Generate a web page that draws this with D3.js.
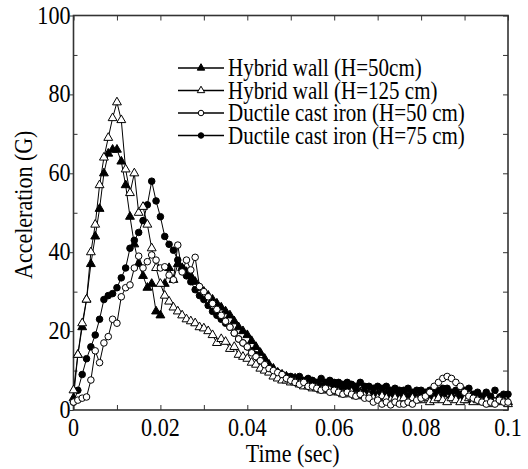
<!DOCTYPE html>
<html><head><meta charset="utf-8"><script src="https://cdn.jsdelivr.net/npm/d3@7"></script></head>
<body style="margin:0">
<div id="chart"></div>
<script>
// time in ms (sampled every 1 ms)
const timeMs = [0,1,2,3,4,5,6,7,8,9,10,11,12,13,14,15,16,17,18,19,20,21,22,23,24,25,26,27,28,29,30,
  31,32,33,34,35,36,37,38,39,40,41,42,43,44,45,46,47,48,49,50,51,52,53,54,55,56,57,58,59,60,
  61,62,63,64,65,66,67,68,69,70,71,72,73,74,75,76,77,78,79,80,81,82,83,84,85,86,87,88,89,90,
  91,92,93,94,95,96,97,98,99,100];

// Hybrid wall (H=50cm) - filled triangles
const hybrid50 = [3,14,21,28,37,44,51,60,65,66,66,63,57,49,42,37,34,31,32,25,24,32,36,33,37,
  36,35,34,32.5,31,30,29,28,27,26,25,24,22.5,21,20,19,17.5,16,14.5,13,11.5,10.5,9.5,9,8.5,
  8,8,7.5,7,7.5,7,6.5,6,6.5,6,6,5.5,5,5.5,5,5,4.5,5,4,4.5,4,4.5,4,3.5,4,4,4.5,3.5,4,3,
  4,3.5,3,3.5,3,4,4.5,3.5,3,3.5,3,2.5,3.5,3,2.5,3,2.5,2,3,2.5,2];

// Hybrid wall (H=125 cm) - open triangles
const hybrid125 = [5,14,22,28,40,47,57,64,69,74,78,73.5,61,55,60,50,51.5,47,41,36,32,29,
  27.5,26,25,24,23,22.5,22,21,20.7,20,19,17,18,17.3,15.5,16,14,13.5,13,12,11.5,10.5,10,9.5,
  8.5,8,7.5,7.5,7,7,6.5,6,6,5.5,5.5,5,5,5,4.5,4.5,4,4,4.5,3.5,4,3.5,3.5,3,3,3.5,3,2.5,3,
  2.5,3,2,3,2.5,2.5,3,2,2.5,3,2.5,2,3,2.5,2,2.5,3,2,2.5,2,2.5,1.5,2,2.5,2,1.5];

// Ductile cast iron (H=50 cm) - open circles
const ductile50 = [2,2.5,3,3.3,7.6,15,12,17,18.6,23,22,28.7,31,31.7,36,39,36,37.6,39.3,38,
  36,36.3,34.2,33,41.8,35,38,35.5,38.7,31.3,30,28.7,27,25.5,24,22.5,21,19.5,18,17,16,
  14.5,13.5,12.5,11.5,10.5,10,9.5,9,8,7.5,7,6.5,7,6,6,5.5,5,5.5,4.5,5,4.5,4,4.5,4,3.5,4,
  3,3,2,2.5,1.5,2,1.3,2,1.5,1.5,2,1.5,2.5,3,3.5,4.5,6,7,8,8.5,8,7,6,4.5,3.5,3,2.5,2,1.5,
  2,1.5,2.5,2,2];

// Ductile cast iron (H=75 cm) - filled circles
const ductile75 = [2,5,9,13,16,19,23,28,29,29.5,31,33.5,36,41,43,45,48,52,58,53,49,44,42,
  40.5,38,36,34,32.5,30.5,29,28,26.5,25,24,23,22,21,19.5,18,17,16,15,14,12.5,11.5,10.5,
  10,9.5,9,8.5,8.5,8,8.5,7.5,8,7.5,7,8,7,7.5,7,7,6.5,7,6.5,6,7,6,6,5.5,6,5.5,6,5,5.5,5,5,
  5.5,4.5,5,5,4.5,5,4.5,5,5.5,5.5,4.5,5,4,5,5.5,4,4.5,3.5,4.5,3.5,5,3,4,4];

const seriesNames = ["Hybrid wall (H=50cm)", "Hybrid wall (H=125 cm)",
  "Ductile cast iron  (H=50 cm)", "Ductile cast iron  (H=75 cm)"];

const xTicks = [0, 0.02, 0.04, 0.06, 0.08, 0.1];
const yTicks = [0, 20, 40, 60, 80, 100];

// set the dimensions and margins of the graph
const W = 528, H = 469;
const margin = {top: 15.5, right: 20, bottom: 59, left: 73.5},
    width = W - margin.left - margin.right,
    height = H - margin.top - margin.bottom;

const root = d3.select("#chart").append("svg").attr("width", W).attr("height", H);

const x = d3.scaleLinear().domain([0, 0.1]).range([margin.left, margin.left + width]);
const y = d3.scaleLinear().domain([0, 100]).range([margin.top + height, margin.top]);

const axisColor = "#333";
const fmtX = d => d === 0 ? "0" : String(+d.toFixed(2));

// all texts first, straight on the svg root
const t = (txt, size) => root.append("text")
  .attr("class", "lbl")
  .attr("style", `font-family: "Liberation Serif", "DejaVu Serif", serif; font-size: ${size}px`)
  .text(txt);

xTicks.forEach(v => {
  t(fmtX(v), 26).attr("text-anchor", "middle")
    .attr("transform", `translate(${x(v)},${y(0) + 26}) scale(0.85,1)`);
});
yTicks.forEach(v => {
  t(String(v), 26).attr("text-anchor", "end")
    .attr("transform", `translate(${x(0) - 3},${y(v) + 8}) scale(0.85,1)`);
});
t("Time (sec)", 25).attr("text-anchor", "middle")
  .attr("transform", `translate(${x(0.05) + 2},${y(0) + 52}) scale(0.88,1)`);
t("Acceleration (G)", 25).attr("text-anchor", "middle")
  .attr("transform", `translate(${x(0) - 42},${y(50) - 8}) rotate(-90) scale(0.88,1)`);

const lx = 178, ly = 68, lstep = 22.5;
seriesNames.forEach((name, i) => {
  t(name, 25).attr("transform", `translate(${lx + 50},${ly + i * lstep + 8}) scale(0.84,1)`);
});

// ticks: every 0.01 on bottom/top (inward), 10 on right (inward), left major out / minor in
function clean(g) {
  g.selectAll(".tick line").attr("stroke", axisColor);
  g.selectAll(".tick text").remove();
  g.select(".domain").remove();
  g.attr("font-family", null).attr("font-size", null);
}
const xMinor = d3.range(0, 0.1001, 0.01);
root.append("g").attr("transform", `translate(0,${y(0)})`)
  .call(d3.axisBottom(x).tickValues(xMinor).tickSize(-5)).call(clean);
root.append("g").attr("transform", `translate(0,${y(100)})`)
  .call(d3.axisTop(x).tickValues(xMinor).tickSize(-5)).call(clean);
root.append("g").attr("transform", `translate(${x(0)},0)`)
  .call(d3.axisLeft(y).tickValues(yTicks).tickSize(4)).call(clean);
root.append("g").attr("transform", `translate(${x(0)},0)`)
  .call(d3.axisLeft(y).tickValues(d3.range(10, 100, 20)).tickSize(-4)).call(clean);
root.append("g").attr("transform", `translate(${x(0.1)},0)`)
  .call(d3.axisRight(y).tickValues(d3.range(0, 101, 10)).tickSize(-5)).call(clean);

// frame
root.append("rect")
  .attr("x", x(0)).attr("y", y(100))
  .attr("width", width).attr("height", height)
  .attr("fill", "none")
  .attr("stroke", axisColor)
  .attr("stroke-width", 1.6);

// markers
const triUp = d3.symbol().type(d3.symbolTriangle).size(34);
const circ = d3.symbol().type(d3.symbolCircle).size(34);

const series = [
  {values: hybrid50, sym: triUp, fill: "#000"},
  {values: ductile75, sym: circ, fill: "#000"},
  {values: hybrid125, sym: triUp, fill: "#fff"},
  {values: ductile50, sym: circ, fill: "#fff"}
];

const line = d3.line()
  .x(d => x(d[0] / 1000))
  .y(d => y(d[1]));

series.forEach(s => {
  const pts = timeMs.map((tm, i) => [tm, s.values[i]]);
  const g = root.append("g");
  g.append("path")
    .datum(pts)
    .attr("d", line)
    .attr("fill", "none")
    .attr("stroke", "#000")
    .attr("stroke-width", 1);
  g.selectAll("path.m").data(pts).enter().append("path")
    .attr("class", "m")
    .attr("d", s.sym)
    .attr("transform", d => `translate(${x(d[0] / 1000)},${y(d[1])})`)
    .attr("fill", s.fill)
    .attr("stroke", "#000")
    .attr("stroke-width", 1);
});

// legend lines and markers
const legendMarks = [
  {fill: "#000", tri: true},
  {fill: "#fff", tri: true},
  {fill: "#fff", tri: false},
  {fill: "#000", tri: false}
];
legendMarks.forEach((d, i) => {
  const row = root.append("g").attr("transform", `translate(${lx},${ly + i * lstep})`);
  row.append("line").attr("x1", 0).attr("x2", 46).attr("y1", 0).attr("y2", 0)
    .attr("stroke", "#000").attr("stroke-width", 1.6);
  const sym = d3.symbol().type(d.tri ? d3.symbolTriangle : d3.symbolCircle).size(24);
  row.append("path").attr("d", sym()).attr("transform", "translate(23,0)")
    .attr("fill", d.fill).attr("stroke", "#000");
});

// make sure the serif face is used once it is ready
if (document.fonts && document.fonts.load) {
  document.fonts.load('25px "Liberation Serif"').then(() => {
    root.selectAll("text.lbl").style("font-family", '"Liberation Serif"');
  });
}
</script></body></html>
